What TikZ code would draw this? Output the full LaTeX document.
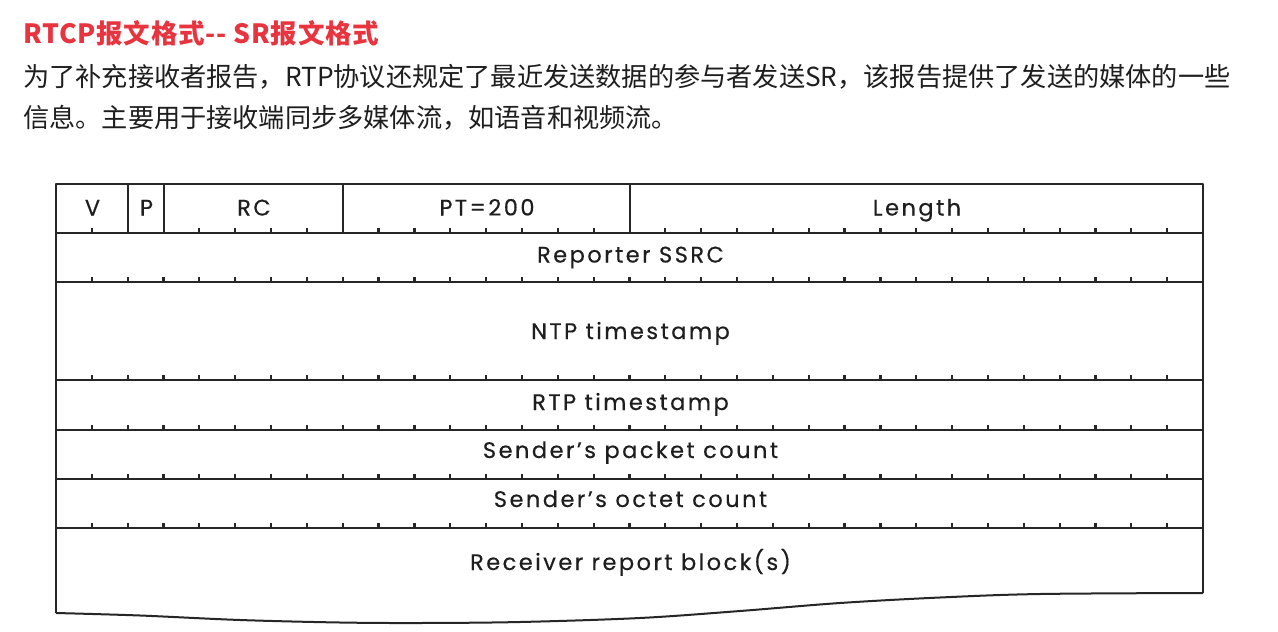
\documentclass[tikz,border=0pt]{standalone}
\usepackage{fontspec}
\newfontfamily\cjk{Noto Sans CJK SC}
\newfontfamily\cjktitle{Noto Sans CJK SC}[LetterSpace=3]
\newfontfamily\tabfont{Poppins}[LetterSpace=11, FakeBold=0.4]
\definecolor{titlered}{HTML}{E8343F}
\definecolor{bodytext}{HTML}{1E1E1E}
\definecolor{linecol}{HTML}{262626}
\tikzset{
  heading/.style={anchor=west, inner sep=0pt, text=titlered, font=\cjktitle\bfseries\fontsize{26.5}{30}\selectfont},
  para/.style={anchor=west, inner sep=0pt, text=bodytext, font=\cjk\fontsize{26.2}{30}\selectfont},
  field/.style={anchor=base, inner sep=0pt, text=bodytext, font=\tabfont\fontsize{22.5}{26}\selectfont},
  tbl/.style={draw=linecol, line width=2pt, line join=round},
  tickmark/.style={draw=linecol, line width=2.2pt},
}
\begin{document}
\begin{tikzpicture}[x=1pt,y=-1pt]
\useasboundingbox (0,0) rectangle (1278,632);
\fill[white] (0,0) rectangle (1278,632);
% texts above
\node[heading] (title) at (23,33) {RTCP报文格式-- SR报文格式};
\node[para] (line1) at (23,77) {为了补充接收者报告，RTP协议还规定了最近发送数据的参与者发送SR，该报告提供了发送的媒体的一些};
\node[para] (line2) at (23,118) {信息。主要用于接收端同步多媒体流，如语音和视频流。};
% table geometry
\def\bit{35.84375}
% outline
\draw[tbl] (56,613) -- (56,184) -- (1203,184) -- (1203,593);
\draw[tbl] plot[smooth, tension=0.55] coordinates {(56,613) (140,615.5) (240,620) (340,622.5) (420,623) (520,622) (640,618) (740,611) (840,603) (940,597.5) (1040,594) (1203,593)};
% row lines
\foreach \y in {233,282,380,430,479,528} {
  \draw[tbl] (56,\y) -- (1203,\y);
}
% field separators in first row
\foreach \k in {2,3,8,16} {
  \draw[tbl] ({56+\k*\bit},184) -- ({56+\k*\bit},233);
}
% ticks on first row bottom
\foreach \k in {1,4,5,6,7,9,10,11,12,13,14,15,17,18,19,20,21,22,23,24,25,26,27,28,29,30,31} {
  \draw[tickmark] ({56+\k*\bit},233) -- ++(0,-5);
}
% ticks on other rows
\foreach \y in {282,380,430,479,528} {
  \foreach \k in {1,...,31} {
    \draw[tickmark] ({56+\k*\bit},\y) -- ++(0,-5);
  }
}
% field labels
\node[field] (v) at (92.5,215.5) {V};
\node[field] (p) at (146.5,215.5) {P};
\node[field] (rc) at (254,215.5) {RC};
\node[field] (pt) at (487,215.5) {PT=200};
\node[field] (len) at (917,215.5) {Length};
\node[field] (ssrc) at (630.5,262.5) {Reporter SSRC};
\node[field] (ntp) at (630.5,339) {NTP timestamp};
\node[field] (rtp) at (630.5,410) {RTP timestamp};
\node[field] (spc) at (630.5,458) {Sender’s packet count};
\node[field] (soc) at (630.5,507) {Sender’s octet count};
\node[field] (rrb) at (630.5,570) {Receiver report block(s)};
\end{tikzpicture}
\end{document}
